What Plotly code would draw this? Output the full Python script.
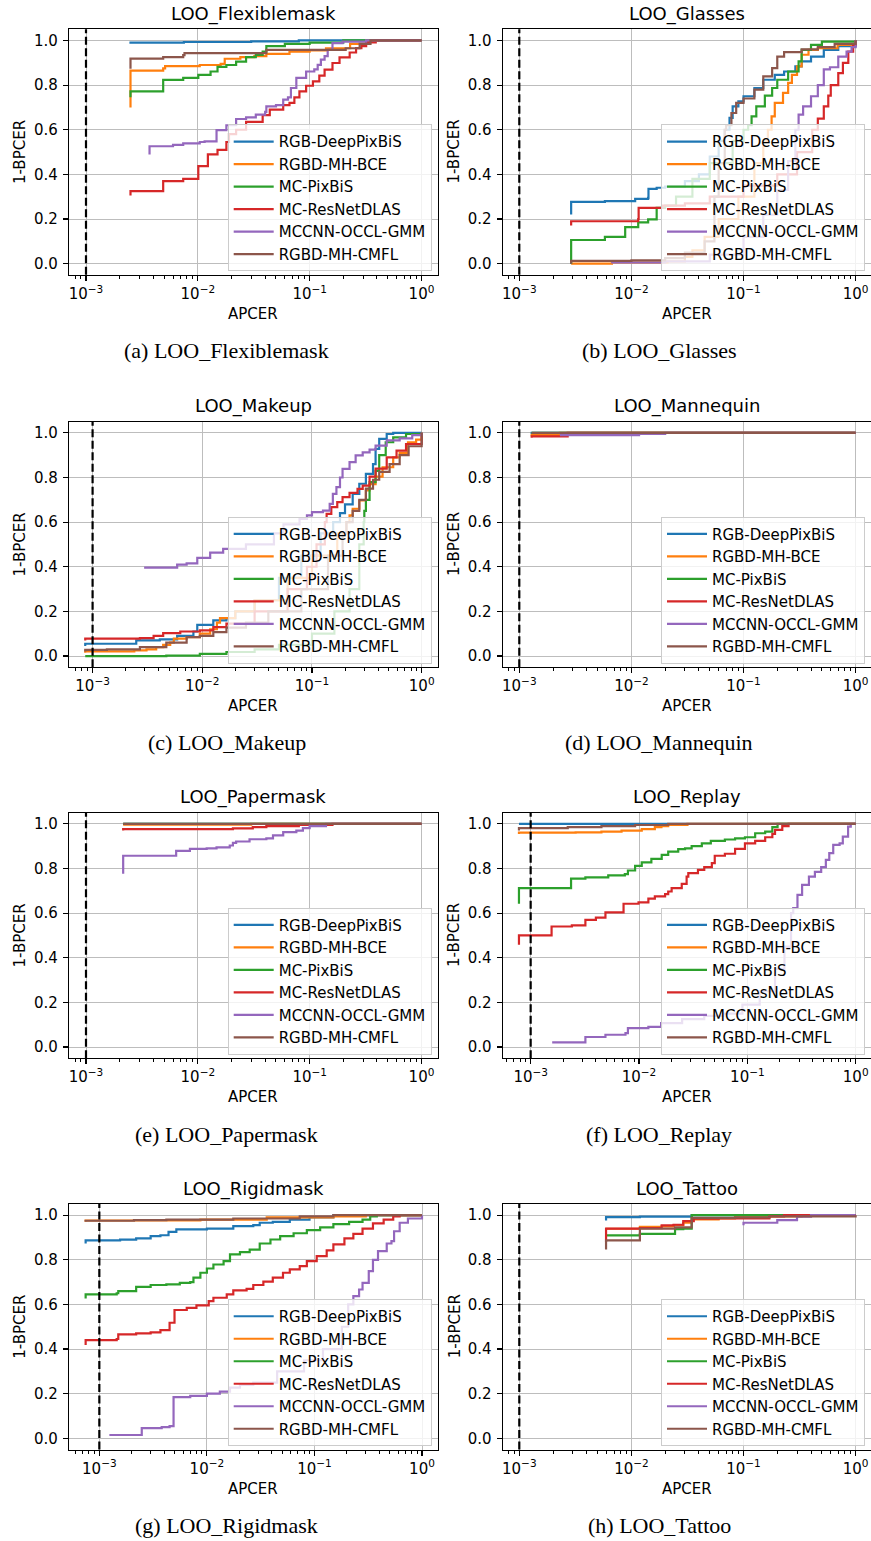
import plotly.graph_objects as go

W, H = 871, 1541

NAMES = ["RGB-DeepPixBiS", "RGBD-MH-BCE", "MC-PixBiS", "MC-ResNetDLAS", "MCCNN-OCCL-GMM", "RGBD-MH-CMFL"]
COLORS = ["#1f77b4", "#ff7f0e", "#2ca02c", "#d62728", "#9467bd", "#8c564b"]
THRESHOLD_APCER = 1e-3
PANEL_TITLES = ["LOO_Flexiblemask", "LOO_Glasses", "LOO_Makeup", "LOO_Mannequin",
                "LOO_Papermask", "LOO_Replay", "LOO_Rigidmask", "LOO_Tattoo"]
CAPTIONS = ["(a) LOO_Flexiblemask", "(b) LOO_Glasses", "(c) LOO_Makeup", "(d) LOO_Mannequin",
            "(e) LOO_Papermask", "(f) LOO_Replay", "(g) LOO_Rigidmask", "(h) LOO_Tattoo"]
Y_TICKS = [0.0, 0.2, 0.4, 0.6, 0.8, 1.0]
X_TICKS = [1e-3, 1e-2, 1e-1, 1.0]
X_TICK_TEXT = ["10<sup>\u22123</sup>", "10<sup>\u22122</sup>", "10<sup>\u22121</sup>", "10<sup>0</sup>"]

# ---------------- (a) LOO_Flexiblemask ----------------
FLEX_DPB_X = [0.0025, 0.0025, 0.0075, 0.03, 0.08, 1.0]
FLEX_DPB_Y = [0.985, 0.99, 0.993, 0.996, 1.0, 1.0]
FLEX_BCE_X = [0.0025, 0.0025, 0.0049, 0.0051, 0.0104, 0.016, 0.0174, 0.024, 0.032, 0.041, 0.066, 0.1, 0.14, 0.23, 0.32, 1.0]
FLEX_BCE_Y = [0.70, 0.865, 0.875, 0.885, 0.89, 0.895, 0.918, 0.925, 0.93, 0.94, 0.95, 0.955, 0.965, 0.985, 1.0, 1.0]
FLEX_PIX_X = [0.0025, 0.0025, 0.0049, 0.0074, 0.0101, 0.013, 0.015, 0.018, 0.022, 0.027, 0.033, 0.038, 0.041, 0.06, 0.1, 0.2, 1.0]
FLEX_PIX_Y = [0.745, 0.772, 0.823, 0.832, 0.846, 0.861, 0.882, 0.89, 0.905, 0.925, 0.935, 0.95, 0.975, 0.985, 0.99, 1.0, 1.0]
FLEX_RES_X = [0.0025, 0.0025, 0.0049, 0.0074, 0.0101, 0.0123, 0.015, 0.018, 0.019, 0.022, 0.027, 0.038, 0.044, 0.058, 0.066,
              0.073, 0.081, 0.093, 0.107, 0.122, 0.136, 0.16, 0.185, 0.228, 0.26, 0.29, 0.32, 0.39, 1.0]
FLEX_RES_Y = [0.305, 0.325, 0.37, 0.38, 0.437, 0.49, 0.51, 0.545, 0.58, 0.6, 0.635, 0.665, 0.69, 0.71, 0.72,
              0.745, 0.772, 0.797, 0.817, 0.842, 0.869, 0.899, 0.924, 0.946, 0.966, 0.975, 0.991, 1.0, 1.0]
FLEX_OCC_X = [0.0037, 0.0037, 0.006, 0.0074, 0.0104, 0.0115, 0.0147, 0.018, 0.022, 0.027, 0.033, 0.04, 0.041, 0.05,
              0.058, 0.064, 0.068, 0.076, 0.093, 0.11, 0.118, 0.126, 0.136, 0.145, 0.16, 0.197, 0.32, 1.0]
FLEX_OCC_Y = [0.489, 0.526, 0.532, 0.539, 0.545, 0.548, 0.598, 0.62, 0.648, 0.655, 0.668, 0.68, 0.705, 0.71,
              0.735, 0.745, 0.787, 0.832, 0.861, 0.87, 0.891, 0.914, 0.93, 0.958, 0.988, 0.995, 1.0, 1.0]
FLEX_CMF_X = [0.0025, 0.0025, 0.0049, 0.0074, 0.0076, 0.041, 0.21, 0.28, 0.35, 1.0]
FLEX_CMF_Y = [0.873, 0.919, 0.925, 0.934, 0.943, 0.958, 0.965, 0.985, 1.0, 1.0]

# ---------------- (b) LOO_Glasses ----------------
GLAS_DPB_X = [0.0029, 0.0029, 0.0058, 0.0108, 0.0141, 0.0142, 0.0168, 0.02, 0.03, 0.04, 0.05, 0.06, 0.068, 0.075, 0.08,
              0.09, 0.1, 0.125, 0.15, 0.19, 0.23, 0.29, 0.33, 0.4, 0.52, 0.7, 1.0]
GLAS_DPB_Y = [0.22, 0.277, 0.28, 0.29, 0.295, 0.335, 0.34, 0.345, 0.37, 0.4, 0.48, 0.55, 0.6, 0.653, 0.705,
              0.727, 0.75, 0.787, 0.824, 0.846, 0.861, 0.884, 0.906, 0.928, 0.958, 0.975, 1.0]
GLAS_BCE_X = [0.0029, 0.0067, 0.021, 0.03, 0.035, 0.045, 0.06, 0.09, 0.125, 0.15, 0.165, 0.178, 0.19, 0.225, 0.25,
              0.27, 0.3, 0.33, 0.38, 0.46, 0.69, 1.0]
GLAS_BCE_Y = [0.0, 0.005, 0.01, 0.03, 0.06, 0.12, 0.2, 0.3, 0.45, 0.55, 0.6, 0.66, 0.72, 0.765, 0.81,
              0.846, 0.884, 0.936, 0.958, 0.965, 0.98, 1.0]
GLAS_PIX_X = [0.0029, 0.0029, 0.0058, 0.0088, 0.0115, 0.0141, 0.0168, 0.02, 0.025, 0.035, 0.05, 0.08, 0.1, 0.11, 0.118,
              0.13, 0.155, 0.18, 0.2, 0.25, 0.31, 0.33, 0.4, 0.5, 1.0]
GLAS_PIX_Y = [0.0, 0.106, 0.12, 0.164, 0.185, 0.198, 0.25, 0.26, 0.3, 0.38, 0.45, 0.55, 0.6, 0.62, 0.66,
              0.705, 0.753, 0.787, 0.824, 0.861, 0.906, 0.958, 0.98, 0.995, 1.0]
GLAS_RES_X = [0.0029, 0.0029, 0.0115, 0.0116, 0.019, 0.03, 0.05, 0.1, 0.2, 0.3, 0.41, 0.46, 0.52, 0.57, 0.6, 0.7,
              0.77, 0.86, 0.95, 1.0]
GLAS_RES_Y = [0.171, 0.19, 0.2, 0.25, 0.26, 0.27, 0.3, 0.35, 0.4, 0.5, 0.6, 0.65, 0.705, 0.753, 0.8, 0.854,
              0.9, 0.95, 0.98, 1.0]
GLAS_OCC_X = [0.0066, 0.02, 0.05, 0.1, 0.15, 0.2, 0.25, 0.29, 0.31, 0.34, 0.4, 0.46, 0.52, 0.59, 0.7, 0.83, 0.92, 1.0]
GLAS_OCC_Y = [0.005, 0.01, 0.04, 0.12, 0.22, 0.33, 0.46, 0.6, 0.668, 0.705, 0.75, 0.8, 0.87, 0.88, 0.928, 0.95, 0.97, 1.0]
GLAS_CMF_X = [0.0029, 0.0029, 0.01, 0.02, 0.03, 0.045, 0.055, 0.06, 0.068, 0.07, 0.078, 0.086, 0.1, 0.125, 0.15,
              0.18, 0.2, 0.23, 0.33, 0.46, 0.65, 1.0]
GLAS_CMF_Y = [0.0, 0.012, 0.015, 0.025, 0.05, 0.1, 0.3, 0.45, 0.6, 0.62, 0.675, 0.72, 0.74, 0.78, 0.839,
              0.876, 0.928, 0.948, 0.96, 0.97, 0.985, 1.0]

# ---------------- (c) LOO_Makeup ----------------
MAKE_DPB_X = [0.000857, 0.000857, 0.0025, 0.0041, 0.0059, 0.0083, 0.009, 0.0126, 0.0166, 0.02, 0.03, 0.05, 0.08, 0.12,
              0.156, 0.18, 0.2, 0.235, 0.27, 0.31, 0.36, 0.38, 0.41, 0.48, 0.55, 1.0]
MAKE_DPB_Y = [0.045, 0.055, 0.07, 0.075, 0.09, 0.11, 0.14, 0.16, 0.17, 0.2, 0.25, 0.35, 0.45, 0.55,
              0.6, 0.64, 0.68, 0.727, 0.772, 0.816, 0.86, 0.928, 0.973, 0.995, 1.0, 1.0]
MAKE_BCE_X = [0.000857, 0.000857, 0.0024, 0.0031, 0.0038, 0.0044, 0.0051, 0.0055, 0.0072, 0.0095, 0.0118, 0.0136,
              0.0145, 0.02, 0.03, 0.06, 0.1, 0.17, 0.206, 0.22, 0.235, 0.27, 0.31, 0.335, 0.38, 0.44, 0.55, 0.63,
              0.75, 0.89, 1.0]
MAKE_BCE_Y = [0.015, 0.021, 0.025, 0.03, 0.04, 0.05, 0.06, 0.078, 0.085, 0.1, 0.12, 0.15,
              0.17, 0.2, 0.25, 0.35, 0.45, 0.55, 0.6, 0.63, 0.66, 0.697, 0.742, 0.77, 0.804, 0.846, 0.89, 0.91,
              0.958, 0.97, 1.0]
MAKE_PIX_X = [0.000857, 0.0047, 0.0095, 0.0166, 0.03, 0.05, 0.1, 0.16, 0.22, 0.27, 0.296, 0.30, 0.31, 0.335, 0.38,
              0.41, 0.47, 0.55, 0.72, 1.0]
MAKE_PIX_Y = [0.0, 0.002, 0.01, 0.018, 0.03, 0.05, 0.1, 0.2, 0.3, 0.5, 0.6, 0.65, 0.7, 0.779, 0.83,
              0.9, 0.958, 0.98, 0.995, 1.0]
MAKE_RES_X = [0.000857, 0.000857, 0.0027, 0.0036, 0.0044, 0.0063, 0.0095, 0.0126, 0.0166, 0.03, 0.06, 0.09, 0.11,
              0.131, 0.136, 0.15, 0.17, 0.19, 0.22, 0.26, 0.29, 0.335, 0.38, 0.48, 0.59, 0.72, 1.0]
MAKE_RES_Y = [0.07, 0.078, 0.08, 0.09, 0.103, 0.11, 0.115, 0.13, 0.145, 0.2, 0.3, 0.4, 0.5,
              0.6, 0.637, 0.667, 0.69, 0.712, 0.731, 0.749, 0.764, 0.804, 0.84, 0.89, 0.92, 0.95, 1.0]
MAKE_OCC_X = [0.00295, 0.0059, 0.0072, 0.009, 0.0118, 0.0155, 0.025, 0.045, 0.055, 0.077, 0.09, 0.1, 0.126, 0.145,
              0.155, 0.167, 0.18, 0.19, 0.22, 0.25, 0.29, 0.335, 0.38, 0.48, 0.63, 0.82, 1.0]
MAKE_OCC_Y = [0.396, 0.41, 0.415, 0.44, 0.463, 0.48, 0.5, 0.55, 0.59, 0.615, 0.63, 0.645, 0.652, 0.682,
              0.727, 0.757, 0.8, 0.839, 0.869, 0.899, 0.913, 0.925, 0.943, 0.966, 0.975, 0.99, 1.0]
MAKE_CMF_X = [0.000857, 0.000857, 0.00135, 0.0027, 0.0047, 0.0072, 0.0095, 0.0126, 0.0166, 0.025, 0.04, 0.08, 0.14,
              0.19, 0.206, 0.235, 0.27, 0.31, 0.36, 0.41, 0.51, 0.63, 0.76, 1.0]
MAKE_CMF_Y = [0.02, 0.028, 0.03, 0.04, 0.06, 0.085, 0.09, 0.107, 0.127, 0.15, 0.2, 0.3, 0.45,
              0.55, 0.6, 0.65, 0.7, 0.75, 0.79, 0.825, 0.86, 0.9, 0.94, 1.0]

# ---------------- (d) LOO_Mannequin ----------------
MANN_DPB_X = [0.00129, 0.00129, 1.0]
MANN_DPB_Y = [0.995, 1.0, 1.0]
MANN_BCE_X = [0.00129, 0.00129, 0.0023, 1.0]
MANN_BCE_Y = [0.985, 0.991, 1.0, 1.0]
MANN_PIX_X = [0.00129, 1.0]
MANN_PIX_Y = [1.0, 1.0]
MANN_RES_X = [0.00129, 0.00129, 0.0027, 1.0]
MANN_RES_Y = [0.978, 0.984, 1.0, 1.0]
MANN_OCC_X = [0.0023, 0.0117, 0.02, 1.0]
MANN_OCC_Y = [0.99, 0.995, 1.0, 1.0]
MANN_CMF_X = [0.00129, 1.0]
MANN_CMF_Y = [1.0, 1.0]

# ---------------- (e) LOO_Papermask ----------------
PAPE_DPB_X = [0.00215, 1.0]
PAPE_DPB_Y = [1.0, 1.0]
PAPE_BCE_X = [0.00215, 0.03, 1.0]
PAPE_BCE_Y = [0.997, 1.0, 1.0]
PAPE_PIX_X = [0.00215, 1.0]
PAPE_PIX_Y = [1.0, 1.0]
PAPE_RES_X = [0.00215, 0.00215, 0.0206, 0.031, 0.041, 0.08, 0.16, 1.0]
PAPE_RES_Y = [0.97, 0.976, 0.98, 0.985, 0.99, 0.995, 1.0, 1.0]
PAPE_OCC_X = [0.00215, 0.00215, 0.0064, 0.0085, 0.012, 0.0147, 0.0193, 0.0206, 0.022, 0.029, 0.041, 0.047, 0.058,
              0.076, 0.087, 0.1, 0.14, 1.0]
PAPE_OCC_Y = [0.776, 0.857, 0.879, 0.888, 0.89, 0.895, 0.903, 0.915, 0.921, 0.931, 0.935, 0.948, 0.963,
              0.97, 0.981, 0.99, 1.0, 1.0]
PAPE_CMF_X = [0.00215, 1.0]
PAPE_CMF_Y = [1.0, 1.0]

# ---------------- (f) LOO_Replay ----------------
REPL_DPB_X = [0.00078, 1.0]
REPL_DPB_Y = [1.0, 1.0]
REPL_BCE_X = [0.00078, 0.00078, 0.0026, 0.0045, 0.0069, 0.0106, 0.014, 0.0161, 0.0186, 0.028, 1.0]
REPL_BCE_Y = [0.955, 0.961, 0.962, 0.965, 0.97, 0.976, 0.985, 0.99, 0.995, 1.0, 1.0]
REPL_PIX_X = [0.00078, 0.00078, 0.00236, 0.0032, 0.0052, 0.0074, 0.0079, 0.0092, 0.0106, 0.013, 0.0162, 0.0186,
              0.023, 0.0266, 0.0306, 0.038, 0.046, 0.062, 0.077, 0.095, 0.118, 0.146, 0.17, 0.19, 1.0]
REPL_PIX_Y = [0.642, 0.712, 0.755, 0.76, 0.769, 0.775, 0.791, 0.812, 0.827, 0.843, 0.861, 0.876,
              0.887, 0.89, 0.9, 0.913, 0.924, 0.93, 0.935, 0.94, 0.958, 0.965, 0.985, 1.0, 1.0]
REPL_RES_X = [0.00078, 0.00078, 0.00156, 0.0024, 0.0032, 0.004, 0.0049, 0.0072, 0.0099, 0.0122, 0.014, 0.0174,
              0.0186, 0.02, 0.0248, 0.0275, 0.0285, 0.035, 0.04, 0.047, 0.05, 0.062, 0.077, 0.095, 0.118, 0.146,
              0.17, 0.18, 0.21, 0.24, 1.0]
REPL_RES_Y = [0.458, 0.5, 0.54, 0.545, 0.57, 0.58, 0.603, 0.642, 0.648, 0.665, 0.675, 0.685,
              0.697, 0.712, 0.731, 0.764, 0.779, 0.794, 0.806, 0.824, 0.857, 0.866, 0.888, 0.913, 0.924, 0.94,
              0.955, 0.973, 0.99, 1.0, 1.0]
REPL_OCC_X = [0.00158, 0.0032, 0.0049, 0.0075, 0.0079, 0.0122, 0.016, 0.025, 0.04, 0.06, 0.09, 0.13, 0.18, 0.22,
              0.253, 0.265, 0.29, 0.32, 0.37, 0.42, 0.48, 0.53, 0.57, 0.62, 0.71, 0.76, 0.85, 0.9, 1.0]
REPL_OCC_Y = [0.021, 0.045, 0.055, 0.062, 0.085, 0.09, 0.107, 0.125, 0.14, 0.15, 0.19, 0.25, 0.35, 0.45,
              0.6, 0.622, 0.682, 0.727, 0.764, 0.785, 0.806, 0.839, 0.869, 0.906, 0.913, 0.943, 0.988, 1.0, 1.0]
REPL_CMF_X = [0.00078, 0.00078, 0.0022, 0.0045, 0.0092, 0.0186, 1.0]
REPL_CMF_Y = [0.97, 0.981, 0.985, 0.99, 0.995, 1.0, 1.0]

# ---------------- (g) LOO_Rigidmask ----------------
RIGI_DPB_X = [0.000746, 0.000746, 0.00156, 0.0022, 0.003, 0.0037, 0.0044, 0.0052, 0.01, 0.0176, 0.027, 0.031,
              0.041, 0.059, 0.09, 0.15, 1.0]
RIGI_DPB_Y = [0.873, 0.887, 0.89, 0.896, 0.906, 0.91, 0.925, 0.936, 0.94, 0.951, 0.955, 0.966,
              0.97, 0.98, 0.99, 1.0, 1.0]
RIGI_BCE_X = [0.000746, 0.000746, 0.0021, 0.0087, 0.036, 0.15, 0.3, 1.0]
RIGI_BCE_Y = [0.97, 0.976, 0.977, 0.98, 0.99, 0.995, 1.0, 1.0]
RIGI_PIX_X = [0.000746, 0.000746, 0.00145, 0.0015, 0.0022, 0.003, 0.0042, 0.0056, 0.007, 0.0075, 0.0087, 0.01,
              0.0115, 0.0143, 0.0164, 0.0203, 0.025, 0.031, 0.039, 0.048, 0.064, 0.085, 0.113, 0.15, 0.21, 0.28,
              0.33, 0.38, 1.0]
RIGI_PIX_Y = [0.627, 0.645, 0.65, 0.66, 0.679, 0.687, 0.69, 0.697, 0.7, 0.72, 0.742, 0.761,
              0.779, 0.794, 0.824, 0.834, 0.846, 0.873, 0.891, 0.906, 0.919, 0.933, 0.945, 0.96, 0.97, 0.98,
              0.995, 1.0, 1.0]
RIGI_RES_X = [0.000746, 0.000746, 0.00145, 0.0015, 0.0022, 0.003, 0.0037, 0.0045, 0.005, 0.0065, 0.008, 0.0104,
              0.0115, 0.0153, 0.0176, 0.0234, 0.027, 0.0335, 0.041, 0.051, 0.059, 0.073, 0.085, 0.105, 0.13,
              0.15, 0.19, 0.23, 0.28, 0.35, 0.44, 0.54, 0.62, 1.0]
RIGI_RES_Y = [0.418, 0.44, 0.445, 0.466, 0.47, 0.475, 0.485, 0.518, 0.575, 0.585, 0.596, 0.615,
              0.63, 0.645, 0.663, 0.67, 0.687, 0.702, 0.72, 0.742, 0.757, 0.772, 0.794, 0.816, 0.842,
              0.869, 0.896, 0.916, 0.94, 0.963, 0.98, 0.995, 1.0, 1.0]
RIGI_OCC_X = [0.00124, 0.00248, 0.0038, 0.0045, 0.0049, 0.007, 0.01, 0.0132, 0.0164, 0.0203, 0.027, 0.045, 0.08,
              0.12, 0.18, 0.206, 0.23, 0.26, 0.28, 0.32, 0.35, 0.39, 0.47, 0.52, 0.55, 0.62, 0.74, 1.0]
RIGI_OCC_Y = [0.015, 0.046, 0.05, 0.055, 0.185, 0.19, 0.2, 0.209, 0.227, 0.24, 0.25, 0.3, 0.35,
              0.4, 0.5, 0.6, 0.637, 0.667, 0.697, 0.749, 0.8, 0.839, 0.873, 0.884, 0.928, 0.966, 0.985, 1.0]
RIGI_CMF_X = [0.000746, 0.000746, 0.0021, 0.0042, 0.0176, 0.073, 0.15, 1.0]
RIGI_CMF_Y = [0.97, 0.975, 0.978, 0.98, 0.985, 0.995, 1.0, 1.0]

# ---------------- (h) LOO_Tattoo ----------------
TATT_DPB_X = [0.00594, 0.00594, 0.0119, 0.0345, 1.0]
TATT_DPB_Y = [0.976, 0.991, 0.993, 1.0, 1.0]
TATT_BCE_X = [0.00594, 0.0119, 0.0186, 0.0238, 0.029, 0.0345, 0.06, 0.084, 0.17, 0.33, 1.0]
TATT_BCE_Y = [0.939, 0.948, 0.95, 0.955, 0.966, 0.981, 0.985, 0.99, 0.995, 1.0, 1.0]
TATT_PIX_X = [0.00594, 0.0119, 0.0245, 0.029, 0.0345, 1.0]
TATT_PIX_Y = [0.909, 0.916, 0.937, 0.94, 1.0, 1.0]
TATT_RES_X = [0.00594, 0.00594, 0.0119, 0.0186, 0.0238, 0.029, 0.036, 0.06, 0.17, 0.23, 1.0]
TATT_RES_Y = [0.88, 0.94, 0.942, 0.954, 0.957, 0.973, 0.984, 0.985, 0.995, 1.0, 1.0]
TATT_OCC_X = [0.1, 0.1, 0.2, 0.3, 0.4, 0.4, 1.0]
TATT_OCC_Y = [0.955, 0.966, 0.978, 0.993, 0.993, 1.0, 1.0]
TATT_CMF_X = [0.00594, 0.00594, 0.0119, 0.0186, 0.0245, 0.0345, 0.084, 0.17, 1.0]
TATT_CMF_Y = [0.846, 0.887, 0.939, 0.94, 0.945, 0.988, 0.99, 0.995, 1.0]

PANEL_CURVES = [
    [(FLEX_DPB_X, FLEX_DPB_Y), (FLEX_BCE_X, FLEX_BCE_Y), (FLEX_PIX_X, FLEX_PIX_Y),
     (FLEX_RES_X, FLEX_RES_Y), (FLEX_OCC_X, FLEX_OCC_Y), (FLEX_CMF_X, FLEX_CMF_Y)],
    [(GLAS_DPB_X, GLAS_DPB_Y), (GLAS_BCE_X, GLAS_BCE_Y), (GLAS_PIX_X, GLAS_PIX_Y),
     (GLAS_RES_X, GLAS_RES_Y), (GLAS_OCC_X, GLAS_OCC_Y), (GLAS_CMF_X, GLAS_CMF_Y)],
    [(MAKE_DPB_X, MAKE_DPB_Y), (MAKE_BCE_X, MAKE_BCE_Y), (MAKE_PIX_X, MAKE_PIX_Y),
     (MAKE_RES_X, MAKE_RES_Y), (MAKE_OCC_X, MAKE_OCC_Y), (MAKE_CMF_X, MAKE_CMF_Y)],
    [(MANN_DPB_X, MANN_DPB_Y), (MANN_BCE_X, MANN_BCE_Y), (MANN_PIX_X, MANN_PIX_Y),
     (MANN_RES_X, MANN_RES_Y), (MANN_OCC_X, MANN_OCC_Y), (MANN_CMF_X, MANN_CMF_Y)],
    [(PAPE_DPB_X, PAPE_DPB_Y), (PAPE_BCE_X, PAPE_BCE_Y), (PAPE_PIX_X, PAPE_PIX_Y),
     (PAPE_RES_X, PAPE_RES_Y), (PAPE_OCC_X, PAPE_OCC_Y), (PAPE_CMF_X, PAPE_CMF_Y)],
    [(REPL_DPB_X, REPL_DPB_Y), (REPL_BCE_X, REPL_BCE_Y), (REPL_PIX_X, REPL_PIX_Y),
     (REPL_RES_X, REPL_RES_Y), (REPL_OCC_X, REPL_OCC_Y), (REPL_CMF_X, REPL_CMF_Y)],
    [(RIGI_DPB_X, RIGI_DPB_Y), (RIGI_BCE_X, RIGI_BCE_Y), (RIGI_PIX_X, RIGI_PIX_Y),
     (RIGI_RES_X, RIGI_RES_Y), (RIGI_OCC_X, RIGI_OCC_Y), (RIGI_CMF_X, RIGI_CMF_Y)],
    [(TATT_DPB_X, TATT_DPB_Y), (TATT_BCE_X, TATT_BCE_Y), (TATT_PIX_X, TATT_PIX_Y),
     (TATT_RES_X, TATT_RES_Y), (TATT_OCC_X, TATT_OCC_Y), (TATT_CMF_X, TATT_CMF_Y)],
]

# ---------------- layout geometry (pixels) ----------------
COL_LEFT = [(69.0, 437.7), (502.7, 871.0)]
ROW_TOP = [29.3, 421.7, 812.7, 1204.0]
PLOT_H = 245.5
X_RANGES = [(-3.152, 0.145), (-3.148, 0.137), (-3.215, 0.146), (-3.148, 0.137),
            (-3.152, 0.145), (-3.258, 0.141), (-3.282, 0.146), (-3.148, 0.137)]
CAPTION_X = [226.5, 659.0]
CAPTION_Y = [350.8, 742.4, 1134.0, 1525.6]
YLABEL_X = [20.0, 454.5]
LEGEND_RIGHT = [431.7, 865.0]

FONT = "DejaVu Sans"
MINOR_VALS = [k * 10.0 ** e for e in (-4, -3, -2, -1) for k in range(2, 10)]


def px(x):
    return x / W


def py(y):
    return 1.0 - y / H


fig = go.Figure()
layout = dict(width=W, height=H, margin=dict(l=0, r=0, t=0, b=0, autoexpand=False),
              paper_bgcolor="white", plot_bgcolor="white", showlegend=True)
annotations = []
shapes = []

for i in range(8):
    row, col = divmod(i, 2)
    x0p, x1p = COL_LEFT[col]
    top = ROW_TOP[row]
    bot = top + PLOT_H
    idx = "" if i == 0 else str(i + 1)
    legname = "legend" if i == 0 else "legend" + str(i + 1)

    for (xs, ys), name, color in zip(PANEL_CURVES[i], NAMES, COLORS):
        fig.add_trace(go.Scatter(
            x=xs, y=ys, mode="lines", name=name,
            line=dict(color=color, width=2.2, shape="hv"),
            xaxis="x" + idx, yaxis="y" + idx, legend=legname, hoverinfo="skip"))

    axis_common = dict(showline=True, linecolor="black", linewidth=1.2, mirror=True,
                       ticks="outside", ticklen=5, tickwidth=1.2, tickcolor="black",
                       showgrid=True, gridcolor="#bdbdbd", gridwidth=1, zeroline=False,
                       automargin=False,
                       tickfont=dict(family=FONT, size=15, color="black"))
    layout["xaxis" + idx] = dict(
        axis_common, type="log", range=list(X_RANGES[i]), domain=[px(x0p), min(1.0, px(x1p))],
        anchor="y" + idx, tickmode="array", tickvals=X_TICKS, ticktext=X_TICK_TEXT,
        minor=dict(tickmode="array", tickvals=MINOR_VALS, ticks="outside", ticklen=3,
                   tickwidth=1, tickcolor="black", showgrid=False))
    layout["yaxis" + idx] = dict(
        axis_common, range=[-0.05, 1.05], domain=[py(bot), py(top)], anchor="x" + idx,
        tickmode="array", tickvals=Y_TICKS, tickformat=".1f", ticklabelstandoff=2)

    layout[legname] = dict(
        x=px(LEGEND_RIGHT[col]), y=py(bot - 3.5), xanchor="right", yanchor="bottom",
        bgcolor="rgba(255,255,255,0.8)", bordercolor="#cccccc", borderwidth=1,
        font=dict(family=FONT, size=15, color="black"), itemwidth=40,
        tracegroupgap=0)

    shapes.append(dict(type="line", xref="x" + idx, yref="y" + idx + " domain",
                       x0=THRESHOLD_APCER, x1=THRESHOLD_APCER, y0=0, y1=1,
                       line=dict(color="black", width=2.2, dash="8px,3.5px"), layer="above"))

    cx = (x0p + x1p) / 2.0 if col == 0 else (x0p + x1p + 0.4) / 2.0
    annotations.append(dict(text=PANEL_TITLES[i], x=px(cx), y=py(top - 2.5), xref="paper", yref="paper",
                            xanchor="center", yanchor="bottom", showarrow=False,
                            font=dict(family=FONT, size=18, color="black")))
    annotations.append(dict(text="APCER", x=px(cx), y=py(bot + 39.0), xref="paper", yref="paper",
                            xanchor="center", yanchor="middle", showarrow=False,
                            font=dict(family=FONT, size=15, color="black")))
    annotations.append(dict(text="1-BPCER", x=px(YLABEL_X[col]), y=py((top + bot) / 2.0), xref="paper",
                            yref="paper", xanchor="center", yanchor="middle", showarrow=False, textangle=-90,
                            font=dict(family=FONT, size=15, color="black")))
    annotations.append(dict(text=CAPTIONS[i], x=px(CAPTION_X[col]), y=py(CAPTION_Y[row]), xref="paper",
                            yref="paper", xanchor="center", yanchor="middle", showarrow=False,
                            font=dict(family="Liberation Serif", size=22, color="black")))

layout["annotations"] = annotations
layout["shapes"] = shapes
fig.update_layout(**layout)
fig.write_html("out.html", config={"displayModeBar": False, "staticPlot": True},
               post_script="document.body.style.margin='0px';document.body.style.padding='0px';"
                           "document.documentElement.style.overflow='hidden';")
